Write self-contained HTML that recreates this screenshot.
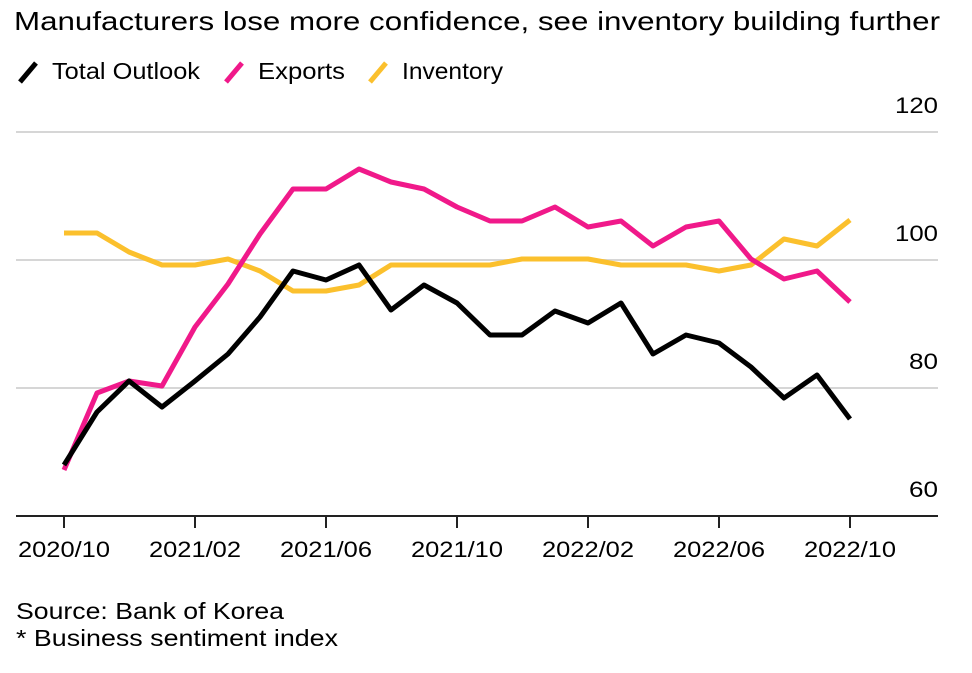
<!DOCTYPE html>
<html><head><meta charset="utf-8"><style>
body{margin:0;background:#fff;width:972px;height:668px;overflow:hidden;font-family:"Liberation Sans",sans-serif}
</style></head><body>
<svg width="972" height="668" viewBox="0 0 972 668" xmlns="http://www.w3.org/2000/svg" font-family="Liberation Sans, sans-serif">
<text x="14" y="30" font-size="26" fill="#000" textLength="926" lengthAdjust="spacingAndGlyphs">Manufacturers lose more confidence, see inventory building further</text>
<line x1="20" y1="82" x2="36" y2="63" stroke="#000" stroke-width="5"/>
<text x="52" y="79" font-size="23" textLength="148" lengthAdjust="spacingAndGlyphs">Total Outlook</text>
<line x1="226" y1="82" x2="242" y2="63" stroke="#f0198a" stroke-width="5"/>
<text x="258" y="79" font-size="23" textLength="87" lengthAdjust="spacingAndGlyphs">Exports</text>
<line x1="370" y1="82" x2="386" y2="63" stroke="#fbc02d" stroke-width="5"/>
<text x="402" y="79" font-size="23" textLength="101" lengthAdjust="spacingAndGlyphs">Inventory</text>
<g stroke="#d6d6d6" stroke-width="2">
<line x1="16" y1="132" x2="938" y2="132"/>
<line x1="16" y1="260" x2="938" y2="260"/>
<line x1="16" y1="388" x2="938" y2="388"/>
</g>
<line x1="16" y1="516" x2="938" y2="516" stroke="#222" stroke-width="2"/>
<g font-size="22" text-anchor="end">
<text x="938" y="113" textLength="43" lengthAdjust="spacingAndGlyphs">120</text>
<text x="938" y="241" textLength="43" lengthAdjust="spacingAndGlyphs">100</text>
<text x="938" y="369" textLength="29" lengthAdjust="spacingAndGlyphs">80</text>
<text x="938" y="497" textLength="29" lengthAdjust="spacingAndGlyphs">60</text>
</g>
<g stroke="#222" stroke-width="2">
<line x1="64" y1="516" x2="64" y2="528"/><line x1="195" y1="516" x2="195" y2="528"/>
<line x1="326" y1="516" x2="326" y2="528"/><line x1="457" y1="516" x2="457" y2="528"/>
<line x1="588" y1="516" x2="588" y2="528"/><line x1="719" y1="516" x2="719" y2="528"/>
<line x1="850" y1="516" x2="850" y2="528"/>
</g>
<g font-size="22">
<text x="18" y="557" textLength="92" lengthAdjust="spacingAndGlyphs">2020/10</text>
<text x="149" y="557" textLength="92" lengthAdjust="spacingAndGlyphs">2021/02</text>
<text x="280" y="557" textLength="92" lengthAdjust="spacingAndGlyphs">2021/06</text>
<text x="411" y="557" textLength="92" lengthAdjust="spacingAndGlyphs">2021/10</text>
<text x="542" y="557" textLength="92" lengthAdjust="spacingAndGlyphs">2022/02</text>
<text x="673" y="557" textLength="92" lengthAdjust="spacingAndGlyphs">2022/06</text>
<text x="804" y="557" textLength="92" lengthAdjust="spacingAndGlyphs">2022/10</text>
</g>
<g fill="none" stroke-width="5" stroke-linejoin="round">
<polyline stroke="#fbc02d" points="64,233 97,233 129,252 162,265 195,265 228,259 260,271 293,291 326,291 359,285 391,265 424,265 457,265 490,265 522,259 555,259 588,259 621,265 653,265 686,265 719,271 751,265 784,239 817,246 850,220"/>
<polyline stroke="#f0198a" points="64,470 97,393 129,381 162,386 195,327 228,284 260,234 293,189 326,189 359,169 391,182 424,189 457,207 490,221 522,221 555,207 588,227 621,221 653,246 686,227 719,221 751,259 784,279 817,271 850,302"/>
<polyline stroke="#000" points="64,465 97,412 129,381 162,407 195,381 228,354 260,317 293,271 326,280 359,265 391,310 424,285 457,303 490,335 522,335 555,311 588,323 621,303 653,354 686,335 719,343 751,367 784,398 817,375 850,419"/>
</g>
<text x="16" y="619" font-size="23" textLength="268" lengthAdjust="spacingAndGlyphs">Source: Bank of Korea</text>
<text x="16" y="646" font-size="23" textLength="322" lengthAdjust="spacingAndGlyphs">* Business sentiment index</text>
</svg>
</body></html>
